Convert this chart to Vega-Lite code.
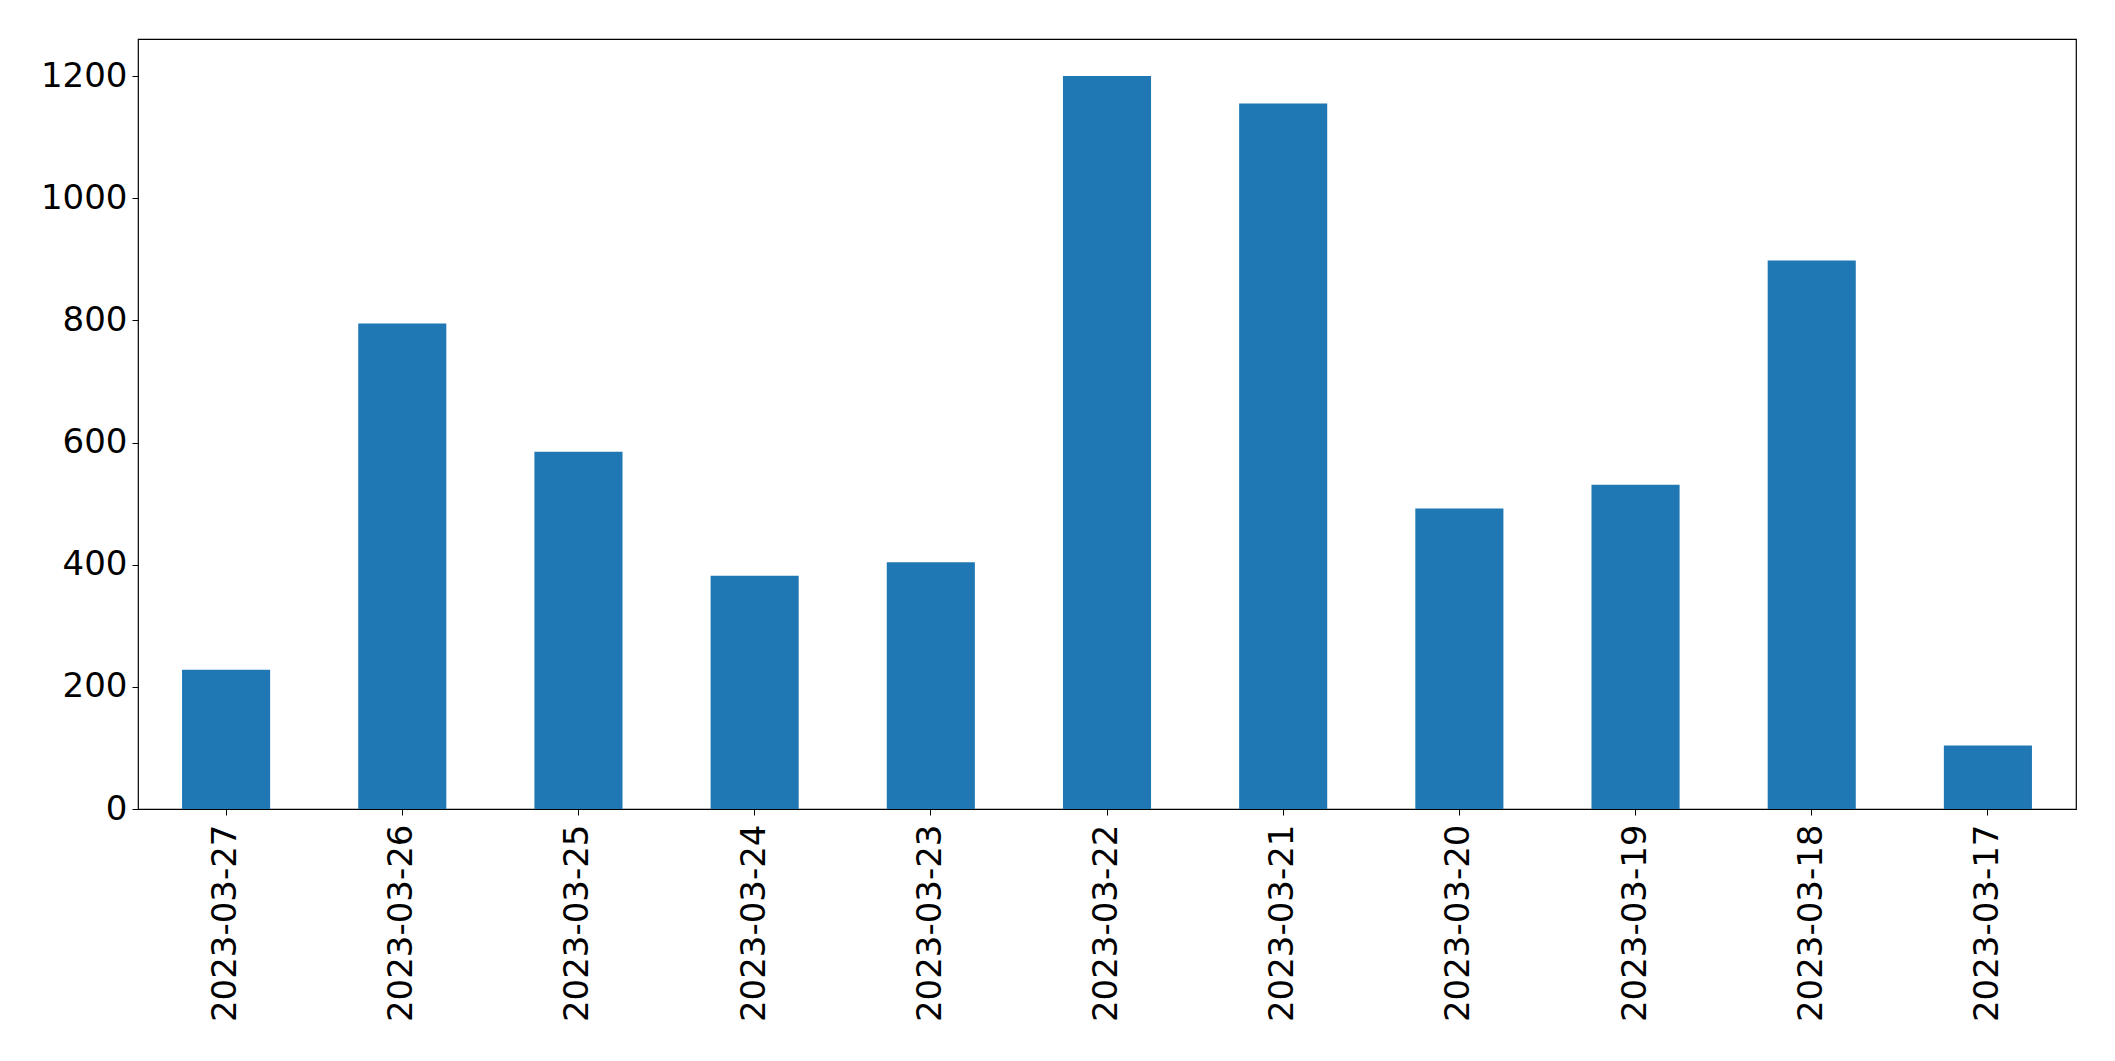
{
  "$schema": "https://vega.github.io/schema/vega-lite/v6.json",
  "width": 1938,
  "height": 770,
  "autosize": {"type": "none"},
  "padding": {"left": 138, "top": 39, "right": 39, "bottom": 252},
  "background": "white",
  "config": {
    "view": {"stroke": "black", "strokeWidth": 1.2},
    "font": "DejaVu Sans"
  },
  "data": {
    "values": [
      {"date": "2023-03-27", "value": 228},
      {"date": "2023-03-26", "value": 795},
      {"date": "2023-03-25", "value": 585},
      {"date": "2023-03-24", "value": 382},
      {"date": "2023-03-23", "value": 404},
      {"date": "2023-03-22", "value": 1200},
      {"date": "2023-03-21", "value": 1155},
      {"date": "2023-03-20", "value": 492},
      {"date": "2023-03-19", "value": 531},
      {"date": "2023-03-18", "value": 898},
      {"date": "2023-03-17", "value": 104}
    ]
  },
  "mark": {"type": "bar", "color": "#1f77b4"},
  "encoding": {
    "x": {
      "field": "date",
      "type": "nominal",
      "sort": null,
      "scale": {"paddingInner": 0.5, "paddingOuter": 0.25},
      "axis": {
        "title": null,
        "labelAngle": -90,
        "labelFontSize": 34,
        "labelLimit": 0,
        "labelColor": "black",
        "labelFont": "DejaVu Sans",
        "labelPadding": 9,
        "tickColor": "black",
        "tickSize": 6,
        "domain": false,
        "grid": false
      }
    },
    "y": {
      "field": "value",
      "type": "quantitative",
      "scale": {"domain": [0, 1260.6], "nice": false, "zero": true},
      "axis": {
        "title": null,
        "format": "d",
        "values": [0, 200, 400, 600, 800, 1000, 1200],
        "labelFontSize": 34,
        "labelColor": "black",
        "labelFont": "DejaVu Sans",
        "labelPadding": 5,
        "tickColor": "black",
        "tickSize": 6,
        "domain": false,
        "grid": false
      }
    }
  }
}
